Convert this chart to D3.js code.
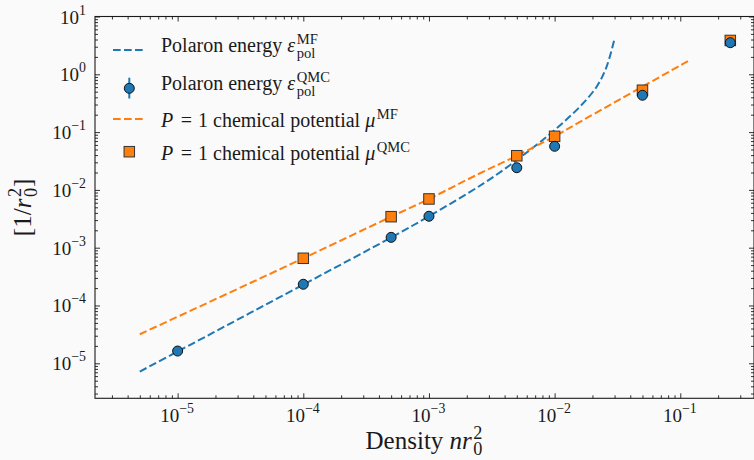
<!DOCTYPE html>
<html>
<head>
<meta charset="utf-8">
<script src="https://cdn.jsdelivr.net/npm/d3@7"></script>
<style>
  body { margin: 0; background: #fafafa; }
  text { font-family: "Liberation Serif", serif; fill: #1a1a1a; white-space: pre; }
</style>
</head>
<body>
<svg id="chart" width="754" height="460"></svg>
<script>
// mean-field curves
const polMfDensity = [5e-6, 1e-5, 1e-4, 5e-4, 1e-3, 2.7e-3, 4.4e-3, 6.4e-3, 8.65e-3, 0.0116, 0.0159, 0.0216, 0.0259, 0.0297];
const polMfEnergy  = [7.2e-6, 1.6e-5, 2.3e-4, 1.5e-3, 3.5e-3, 0.0128, 0.0267, 0.0494, 0.083, 0.144, 0.276, 0.61, 1.35, 3.8];

const muMfDensity = [5e-6, 1e-4, 5e-4, 1e-3, 2.55e-3, 5e-3, 1e-2, 0.0159, 0.0331, 0.1194];
const muMfEnergy  = [3.18e-5, 6.56e-4, 3.44e-3, 6.97e-3, 0.0194, 0.039, 0.0845, 0.15, 0.369, 1.77];

// QMC points
const polQmcDensity = [1e-5, 1e-4, 5e-4, 1e-3, 5e-3, 1e-2, 5e-2, 0.25];
const polQmcEnergy  = [1.63e-5, 2.33e-4, 1.51e-3, 3.5e-3, 0.0242, 0.0568, 0.434, 3.52];

const muQmcDensity = [1e-4, 5e-4, 1e-3, 5e-3, 1e-2, 5e-2, 0.25];
const muQmcEnergy  = [6.56e-4, 3.44e-3, 6.97e-3, 0.039, 0.0845, 0.53, 3.85];

// ticks
const xTicks = [1e-5, 1e-4, 1e-3, 1e-2, 1e-1];
const xTickExp = ["−5", "−4", "−3", "−2", "−1"];
const yTicks = [1e-5, 1e-4, 1e-3, 1e-2, 1e-1, 1e0, 1e1];
const yTickExp = ["−5", "−4", "−3", "−2", "−1", "0", "1"];

const BLUE = "#1f77b4";
const ORANGE = "#ff7f0e";
const DASH = "7.7,3.3";

const plotLeft = 95, plotRight = 754, plotTop = 16.5, plotBottom = 398.3;

const svg = d3.select("#chart");

const x = d3.scaleLog().domain([2.2e-6, 0.386]).range([plotLeft, plotRight]);
const y = d3.scaleLog().domain([2.48e-6, 10]).range([plotBottom, plotTop]);

// minor ticks 2..9 in every decade that is visible
function minorTicks(scale) {
  const [a, b] = scale.domain();
  const out = [];
  for (let e = Math.floor(Math.log10(a)); e <= Math.ceil(Math.log10(b)); e++) {
    for (let k = 2; k <= 9; k++) {
      const v = k * Math.pow(10, e);
      if (v >= a && v <= b) out.push(v);
    }
  }
  return out;
}

// small helper for mathtext-like labels
// items: {t, it} for normal runs, {gap} for extra space, {sup, sub} for a script stack
function mathText(g, items, size, raise, drop) {
  let cx = 0;
  const small = size * 0.73;
  items.forEach(item => {
    if (item.gap !== undefined) {
      cx += item.gap;
    } else if (item.t !== undefined) {
      const el = g.append("text")
        .attr("x", cx).attr("y", 0)
        .attr("font-size", size)
        .attr("font-style", item.it ? "italic" : "normal")
        .text(item.t);
      cx += el.node().getComputedTextLength() + (item.it ? 1.5 : 0);
    } else {
      let w = 0;
      if (item.sup) {
        const s = g.append("text")
          .attr("x", cx).attr("y", -raise)
          .attr("font-size", small)
          .text(item.sup);
        w = Math.max(w, s.node().getComputedTextLength());
      }
      if (item.sub) {
        const s = g.append("text")
          .attr("x", cx).attr("y", drop)
          .attr("font-size", small)
          .text(item.sub);
        w = Math.max(w, s.node().getComputedTextLength());
      }
      cx += w + 1;
    }
  });
  return cx;
}

// ticks, pointing in, on all four sides
const tickLayer = svg.append("g");

function addAxis(axisFn, scale, tf, values, len) {
  const g = tickLayer.append("g")
    .attr("transform", tf)
    .call(axisFn(scale).tickValues(values).tickSize(-len).tickSizeOuter(0).tickFormat(""));
  g.select(".domain").remove();
  g.selectAll("line").attr("stroke", "#1a1a1a").attr("stroke-width", 0.9);
}

addAxis(d3.axisBottom, x, `translate(0,${plotBottom})`, xTicks, 5);
addAxis(d3.axisBottom, x, `translate(0,${plotBottom})`, minorTicks(x), 3);
addAxis(d3.axisTop, x, `translate(0,${plotTop})`, xTicks, 5);
addAxis(d3.axisTop, x, `translate(0,${plotTop})`, minorTicks(x), 3);
addAxis(d3.axisLeft, y, `translate(${plotLeft},0)`, yTicks, 5);
addAxis(d3.axisLeft, y, `translate(${plotLeft},0)`, minorTicks(y), 3);
addAxis(d3.axisRight, y, `translate(${plotRight},0)`, yTicks, 5);
addAxis(d3.axisRight, y, `translate(${plotRight},0)`, minorTicks(y), 3);

// frame
svg.append("rect")
  .attr("x", plotLeft).attr("y", plotTop)
  .attr("width", plotRight - plotLeft).attr("height", plotBottom - plotTop)
  .attr("fill", "none").attr("stroke", "#1a1a1a").attr("stroke-width", 1.1);

// tick labels
xTicks.forEach((v, i) => {
  const g = svg.append("g");
  const w = mathText(g, [{ t: "10" }, { sup: xTickExp[i] }], 19, 9, 0);
  g.attr("transform", `translate(${x(v) - w / 2},422)`);
});
yTicks.forEach((v, i) => {
  const g = svg.append("g");
  const w = mathText(g, [{ t: "10" }, { sup: yTickExp[i] }], 19, 9, 0);
  g.attr("transform", `translate(${87 - w},${y(v) + 7})`);
});

// axis labels
{
  const g = svg.append("g");
  const w = mathText(g, [{ t: "Density " }, { t: "nr", it: true }, { sup: "2", sub: "0" }], 25, 10, 6);
  g.attr("transform", `translate(${(plotLeft + plotRight) / 2 - w / 2},449)`);
}
{
  const g = svg.append("g");
  const w = mathText(g, [{ t: "[1/" }, { t: "r", it: true }, { sup: "2", sub: "0" }, { t: "]" }], 25, 10, 6);
  g.attr("transform", `translate(31,${(plotTop + plotBottom) / 2}) rotate(-90) translate(${-w / 2},0)`);
}

// curves
const line = d3.line()
  .x(d => x(d[0]))
  .y(d => y(d[1]))
  .curve(d3.curveCatmullRom.alpha(0.5));

svg.append("path")
  .datum(d3.zip(polMfDensity, polMfEnergy))
  .attr("d", line)
  .attr("fill", "none").attr("stroke", BLUE)
  .attr("stroke-width", 2).attr("stroke-dasharray", DASH);

svg.append("path")
  .datum(d3.zip(muMfDensity, muMfEnergy))
  .attr("d", line)
  .attr("fill", "none").attr("stroke", ORANGE)
  .attr("stroke-width", 2).attr("stroke-dasharray", DASH);

// markers
const SQ = 10.5;
svg.append("g").selectAll("rect")
  .data(d3.zip(muQmcDensity, muQmcEnergy))
  .join("rect")
  .attr("x", d => x(d[0]) - SQ / 2)
  .attr("y", d => y(d[1]) - SQ / 2)
  .attr("width", SQ).attr("height", SQ)
  .attr("fill", ORANGE).attr("stroke", "#333").attr("stroke-width", 1);

svg.append("g").selectAll("circle")
  .data(d3.zip(polQmcDensity, polQmcEnergy))
  .join("circle")
  .attr("cx", d => x(d[0]))
  .attr("cy", d => y(d[1]))
  .attr("r", 5)
  .attr("fill", BLUE).attr("stroke", "#111").attr("stroke-width", 1);

// legend
const legend = svg.append("g");
const hx0 = 113, hx1 = 145, hxc = 129.3, tx = 161;

legend.append("line")
  .attr("x1", hx0).attr("x2", hx1).attr("y1", 50).attr("y2", 50)
  .attr("stroke", BLUE).attr("stroke-width", 2).attr("stroke-dasharray", DASH);
legend.append("line")
  .attr("x1", hxc).attr("x2", hxc).attr("y1", 77.7).attr("y2", 98.5)
  .attr("stroke", BLUE).attr("stroke-width", 2);
legend.append("circle")
  .attr("cx", hxc).attr("cy", 88.3).attr("r", 5)
  .attr("fill", BLUE).attr("stroke", "#111");
legend.append("line")
  .attr("x1", hx0).attr("x2", hx1).attr("y1", 119).attr("y2", 119)
  .attr("stroke", ORANGE).attr("stroke-width", 2).attr("stroke-dasharray", DASH);
legend.append("rect")
  .attr("x", hxc - SQ / 2).attr("y", 151.7 - SQ / 2)
  .attr("width", SQ).attr("height", SQ)
  .attr("fill", ORANGE).attr("stroke", "#333");

const legendRows = [
  { y: 52, items: [{ t: "Polaron energy " }, { t: "ε", it: true }, { sup: "MF", sub: "pol" }] },
  { y: 90, items: [{ t: "Polaron energy " }, { t: "ε", it: true }, { sup: "QMC", sub: "pol" }] },
  { y: 127, items: [{ t: "P", it: true }, { gap: 6 }, { t: "=" }, { gap: 6 }, { t: "1 chemical potential " }, { t: "μ", it: true }, { sup: "MF" }] },
  { y: 160, items: [{ t: "P", it: true }, { gap: 6 }, { t: "=" }, { gap: 6 }, { t: "1 chemical potential " }, { t: "μ", it: true }, { sup: "QMC" }] }
];
legendRows.forEach(r => {
  const g = legend.append("g").attr("transform", `translate(${tx},${r.y})`);
  mathText(g, r.items, 20, 8, 6);
});
</script>
</body>
</html>
